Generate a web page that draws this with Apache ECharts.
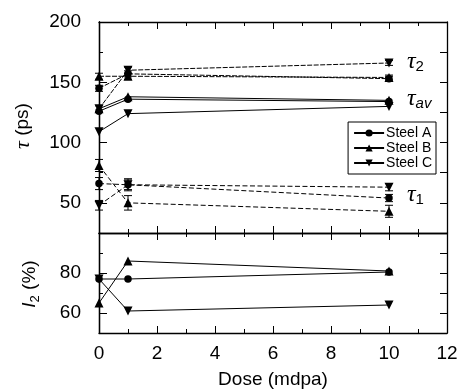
<!DOCTYPE html>
<html><head><meta charset="utf-8">
<script src="https://cdn.jsdelivr.net/npm/echarts@6/dist/echarts.min.js"></script>
<style>html,body{margin:0;padding:0;background:#fff}#c{width:462px;height:392px}</style>
</head><body><div id="c"></div>
<script>
// ---- data ----
const doses = [0, 1, 10];
const steels = ['Steel A', 'Steel B', 'Steel C'];
const tau2A = [145, 157, 153];
const tau2B = [155, 155, 154];
const tau2C = [128, 160, 166];
const tauAvA = [126, 136, 134];
const tauAvB = [128, 138, 135];
const tauAvC = [109, 124, 130];
const tau1A = [66, 65, 54];
const tau1B = [81, 50, 43];
const tau1C = [48, 65, 63];
const i2A = [77, 77, 80.5];
const i2B = [65, 86, 81];
const i2C = [77, 61, 64];
const tau2Err = [2.5, 2.5, 2];
const tau1ErrA = [5, 4, 3];
const tau1ErrB = [5, 6, 5];
const tau1ErrC = [4, 5, 3];
const xTicks = [0, 2, 4, 6, 8, 10, 12];
const upperYLabels = [50, 100, 150, 200];
const upperYMinor = [25, 75, 125, 175];
const lowerYLabels = [60, 80, 100];
const lowerYMinor = [70, 90];

const FONT = 'Liberation Sans';
const downTri = 'path://M0,0 L10,0 L5,9 Z';
const symbols = ['circle', 'triangle', downTri];
const pairs = v => doses.map((d, i) => [d, v[i]]);
const errTriples = (v, e) => doses.map((d, i) => [d, v[i], e[i]]);

const chart = echarts.init(document.getElementById('c'), null, {renderer: 'canvas'});

const grids = [
  {left: 99, right: 15, top: 22, height: 211},
  {left: 99, right: 15, top: 233, height: 100}
];
function xAx(grid, pos, labels) {
  return {type: 'value', gridIndex: grid, position: pos, min: 0, max: 12, interval: 2,
    axisLine: {show: true, onZero: false, lineStyle: {color: '#000', width: 1.3}},
    axisTick: {show: true, inside: true, length: 7, lineStyle: {color: '#000'}},
    minorTick: {show: true, splitNumber: 2, length: 4, lineStyle: {color: '#000'}},
    splitLine: {show: false},
    axisLabel: {show: labels, color: '#000', fontSize: 19, fontFamily: FONT, margin: 11,
      customValues: xTicks}
  };
}
function yAx(grid, pos, min, max, labelVals, tickVals, len, showLabel) {
  return {type: 'value', gridIndex: grid, position: pos, min: min, max: max,
    axisLine: {show: true, onZero: false, lineStyle: {color: '#000', width: 1.3}},
    axisTick: {show: true, inside: true, length: len, customValues: tickVals, lineStyle: {color: '#000'}},
    splitLine: {show: false},
    axisLabel: {show: showLabel, color: '#000', fontSize: 19, fontFamily: FONT, margin: 18,
      customValues: labelVals}
  };
}
const xAxis = [xAx(0, 'bottom', false), xAx(0, 'top', false), xAx(1, 'bottom', true), xAx(1, 'top', false)];
const yAxis = [
  yAx(0, 'left', 25, 200, upperYLabels, upperYLabels, 8, true),
  yAx(0, 'left', 25, 200, [], upperYMinor, 4, false),
  yAx(0, 'right', 25, 200, [], upperYLabels.concat(upperYMinor), 7, false),
  yAx(1, 'left', 50, 100, lowerYLabels.slice(0, 2), lowerYLabels, 8, true),
  yAx(1, 'left', 50, 100, [], lowerYMinor, 4, false),
  yAx(1, 'right', 50, 100, [], lowerYLabels.concat(lowerYMinor), 7, false)
];

function lineSeries(name, data, sym, xi, yi, dash, z) {
  return {type: 'line', name: name, xAxisIndex: xi, yAxisIndex: yi, data: pairs(data),
    symbol: sym, symbolSize: sym === 'circle' ? 7.5 : 9,
    lineStyle: {color: '#000', width: 1, type: dash || 'solid'},
    itemStyle: {color: '#000'}, z: z || 3, animation: false};
}
function errSeries(xi, yi, vals, errs) {
  return {type: 'custom', xAxisIndex: xi, yAxisIndex: yi, data: errTriples(vals, errs), z: 2,
    animation: false, silent: true,
    renderItem: function (params, api) {
      const x = api.value(0), y = api.value(1), e = api.value(2);
      const t = api.coord([x, y + e]), b = api.coord([x, y - e]);
      const hw = 4, st = {stroke: '#000', lineWidth: 1};
      return {type: 'group', children: [
        {type: 'line', shape: {x1: t[0], y1: t[1], x2: b[0], y2: b[1]}, style: st},
        {type: 'line', shape: {x1: t[0] - hw, y1: t[1], x2: t[0] + hw, y2: t[1]}, style: st},
        {type: 'line', shape: {x1: b[0] - hw, y1: b[1], x2: b[0] + hw, y2: b[1]}, style: st}
      ]};
    }
  };
}
const d2 = [5, 1.5], d1 = [5, 2.5];
const series = [
  lineSeries(steels[0], tauAvA, symbols[0], 0, 0, null, 3),
  lineSeries(steels[1], tauAvB, symbols[1], 0, 0, null, 4),
  lineSeries(steels[2], tauAvC, symbols[2], 0, 0, null, 4),
  lineSeries(steels[0], tau2A, symbols[0], 0, 0, d2, 3),
  lineSeries(steels[1], tau2B, symbols[1], 0, 0, d2, 4),
  lineSeries(steels[2], tau2C, symbols[2], 0, 0, d2, 4),
  lineSeries(steels[0], tau1A, symbols[0], 0, 0, d1, 3),
  lineSeries(steels[1], tau1B, symbols[1], 0, 0, d1, 4),
  lineSeries(steels[2], tau1C, symbols[2], 0, 0, d1, 4),
  lineSeries(steels[0], i2A, symbols[0], 2, 3, null, 3),
  lineSeries(steels[1], i2B, symbols[1], 2, 3, null, 4),
  lineSeries(steels[2], i2C, symbols[2], 2, 3, null, 4),
  errSeries(0, 0, tau2A, tau2Err),
  errSeries(0, 0, tau2B, tau2Err),
  errSeries(0, 0, tau2C, tau2Err),
  errSeries(0, 0, tau1A, tau1ErrA),
  errSeries(0, 0, tau1B, tau1ErrB),
  errSeries(0, 0, tau1C, tau1ErrC)
];

const tauLabel = (sub, x, y) => ({type: 'text', left: x, top: y, z: 10,
  style: {text: '{t|τ}{s|' + sub + '}', rich: {
    t: {fontFamily: 'Liberation Serif', fontStyle: 'italic', fontSize: 24, fill: '#000'},
    s: {fontFamily: FONT, fontStyle: sub === 'av' ? 'italic' : 'normal', fontSize: 15, fill: '#000', padding: [10, 0, 0, 0]}
  }}});

chart.setOption({
  animation: false,
  backgroundColor: '#fff',
  grid: grids,
  xAxis: xAxis,
  yAxis: yAxis,
  legend: {data: steels, orient: 'vertical', right: 26, top: 122, width: 89,
    padding: [4, 4, 4, 5], itemGap: 1, itemWidth: 30, itemHeight: 9,
    borderColor: '#000', borderWidth: 1, backgroundColor: '#fff',
    textStyle: {fontFamily: FONT, fontSize: 14, color: '#000', padding: [0, 0, 0, -3]},
    selectedMode: false},
  graphic: [
    tauLabel('2', 407, 50),
    tauLabel('av', 407, 87),
    tauLabel('1', 407, 183),
    {type: 'text', x: 23, y: 126, rotation: Math.PI / 2, z: 10,
      style: {text: '{t|τ} (ps)', align: 'center', verticalAlign: 'middle',
        fontFamily: FONT, fontSize: 19, fill: '#000',
        rich: {t: {fontFamily: 'Liberation Serif', fontStyle: 'italic', fontSize: 22, fill: '#000'}}}},
    {type: 'text', x: 30, y: 284, rotation: Math.PI / 2, z: 10,
      style: {text: '{i|I}{s|2} (%)', align: 'center', verticalAlign: 'middle',
        fontFamily: FONT, fontSize: 19, fill: '#000',
        rich: {i: {fontFamily: FONT, fontStyle: 'italic', fontSize: 19, fill: '#000'},
               s: {fontFamily: FONT, fontSize: 13, fill: '#000', padding: [10, 0, 0, 0]}}}},
    {type: 'text', x: 273, y: 380, z: 10,
      style: {text: 'Dose (mdpa)', align: 'center', verticalAlign: 'middle',
        fontFamily: FONT, fontSize: 19, fill: '#000'}}
  ],
  series: series
});
</script></body></html>
